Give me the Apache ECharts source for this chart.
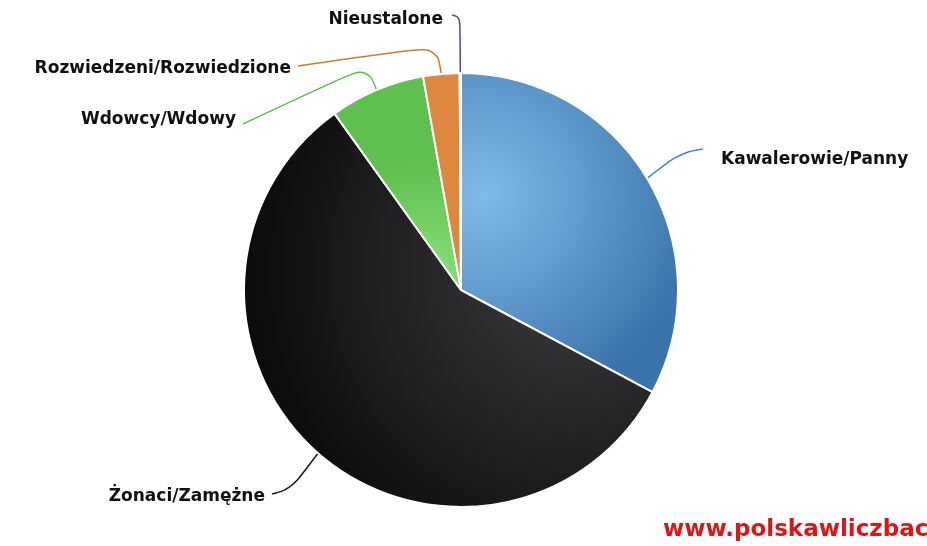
<!DOCTYPE html>
<html>
<head>
<meta charset="utf-8">
<script src="https://cdn.jsdelivr.net/npm/echarts@6/dist/echarts.min.js"></script>
<style>
  html, body { margin: 0; padding: 0; background: #fff; }
  #chart { width: 927px; height: 546px; }
</style>
</head>
<body>
<div id="chart"></div>
<script>
// dane
const categories = ['Kawalerowie/Panny', 'Żonaci/Zamężne', 'Wdowcy/Wdowy', 'Rozwiedzeni/Rozwiedzione', 'Nieustalone']
const values = [32.8, 57.3, 7.1, 2.7, 0.1]

// kolory wycinków (jasny środek -> ciemna krawędź)
const fills = [
  { x: 0.1, y: 0.38, r: 1.0, from: '#80bbec', to: '#3b74ac' },
  { x: 0.8, y: 0.4, r: 0.95, from: '#3c3c40', to: '#040404' },
  { x: 0.7, y: 1.0, r: 1.0, from: '#90e37e', to: '#5ec04e' },
  { x: 0.5, y: 1.0, r: 1.0, from: '#f5a862', to: '#de883f' },
  { x: 0.5, y: 0.5, r: 1.0, from: '#5a5ab8', to: '#3c3c9a' },
]
const lineColors = ['#4a86bf', '#1a1a1a', '#5cbd4b', '#cf7a32', '#4a4aa8']

// położenie etykiet i przebieg linii
const labelPos = [
  { x: 721, y: 160, align: 'left', via: [[680, 153], [703, 149]] },
  { x: 265, y: 497, align: 'right', via: [[291, 489], [272, 494]] },
  { x: 236, y: 120, align: 'right', via: [[367, 66], [243, 124]] },
  { x: 291, y: 69, align: 'right', via: [[437, 46], [298, 66]] },
  { x: 443, y: 20, align: 'right', via: [[460, 17], [452, 15]] },
]

const chartInstance = echarts.init(document.getElementById('chart'))

const pieData = categories.map((name, i) => ({
  name: name,
  value: values[i],
  itemStyle: {
    color: {
      type: 'radial',
      x: fills[i].x,
      y: fills[i].y,
      r: fills[i].r,
      colorStops: [
        { offset: 0, color: fills[i].from },
        { offset: 1, color: fills[i].to },
      ],
    },
  },
  labelLine: {
    lineStyle: { color: lineColors[i] },
  },
}))

const option = {
  animation: false,
  backgroundColor: '#fff',
  series: [
    {
      type: 'pie',
      center: [461, 290],
      radius: 217,
      startAngle: 90,
      clockwise: true,
      avoidLabelOverlap: false,
      itemStyle: {
        borderColor: '#fff',
        borderWidth: 2,
      },
      label: {
        show: true,
        position: 'outside',
        formatter: '{b}',
        color: '#111',
        fontFamily: 'DejaVu Sans',
        fontWeight: 'bold',
        fontSize: 17,
      },
      labelLine: {
        show: true,
        smooth: 0.4,
        length: 20,
        length2: 20,
        lineStyle: { width: 1.5 },
      },
      labelLayout: (params) => {
        const p = labelPos[params.dataIndex]
        const start = params.labelLinePoints ? params.labelLinePoints[0] : p.via[0]
        return {
          x: p.x,
          y: p.y,
          align: p.align,
          verticalAlign: 'middle',
          labelLinePoints: [start, p.via[0], p.via[1]],
        }
      },
      emphasis: { disabled: true },
      data: pieData,
    },
  ],
  graphic: [
    {
      type: 'text',
      left: 663,
      top: 519,
      style: {
        text: 'www.polskawliczbach.pl',
        fill: '#e01414',
        font: 'bold 23px "DejaVu Sans"',
      },
    },
  ],
}

chartInstance.setOption(option)
</script>
</body>
</html>
